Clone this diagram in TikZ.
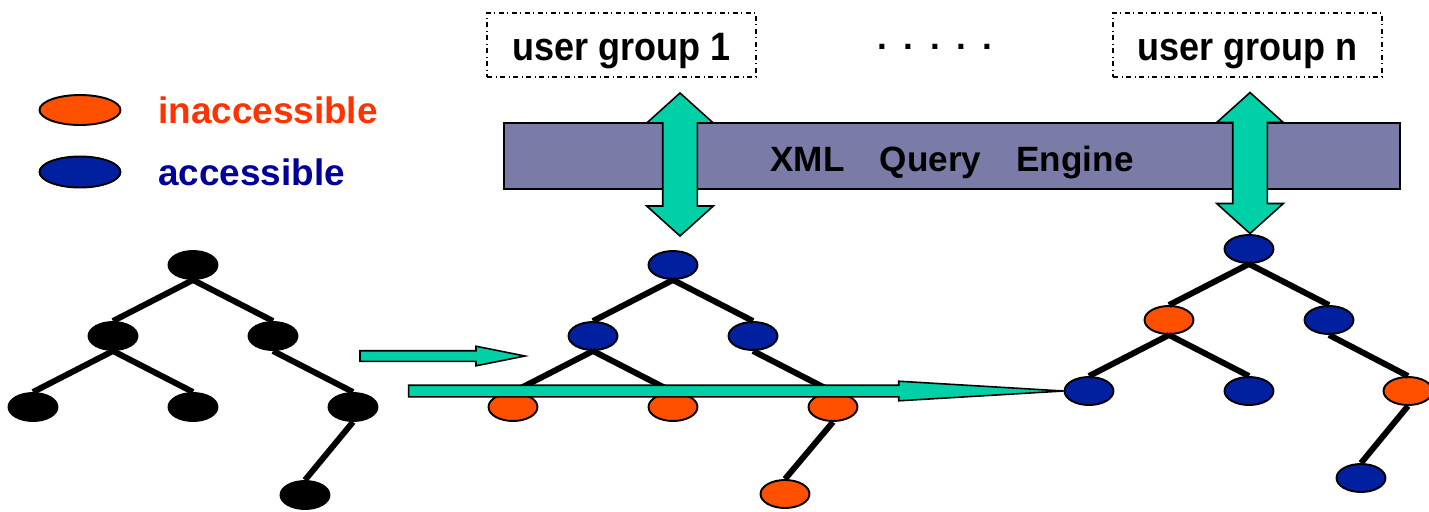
\documentclass[tikz,border=0pt]{standalone}
\usepackage{fontspec}
\setmainfont{Liberation Sans}
\usepackage{xcolor}
\usepackage{graphicx}
\usetikzlibrary{positioning}
\usetikzlibrary{shapes}
\usetikzlibrary{calc}

\definecolor{inaccred}{RGB}{255,80,0}
\definecolor{accblue}{RGB}{0,32,160}
\definecolor{inacctext}{RGB}{255,51,0}
\definecolor{acctext}{RGB}{0,0,153}
\definecolor{enginebar}{RGB}{123,123,168}
\definecolor{aqua}{RGB}{0,208,168}

\begin{document}
\begin{tikzpicture}[x=0.02cm, y=-0.02cm]

\tikzset{%
    every tnode/.style = {
        ellipse,
        draw,
        line width=1.1pt,
        minimum width=0.98cm,
        minimum height=0.56cm,
        inner sep=0pt
    },
    tnode plain/.style = {fill=black},
    tnode acc/.style = {fill=accblue},
    tnode inacc/.style = {fill=inaccred},
    tree edge/.style = {line width=3.4pt},
    legend text/.style = {
        inner sep=0pt,
        font=\fontsize{21}{25}\selectfont\bfseries
    },
    group box/.style = {
        draw,
        dash dot,
        line width=0.8pt,
        minimum width=5.38cm,
        minimum height=1.28cm,
        text height=18pt,
        text depth=0pt,
        font=\fontsize{20.5}{24}\selectfont\bfseries
    },
    engine bar/.style = {
        draw,
        fill=enginebar,
        line width=1.1pt,
        minimum width=17.92cm,
        minimum height=1.32cm,
        text height=17.1pt,
        text depth=0pt,
        font=\fontsize{20}{24}\selectfont\bfseries
    },
    updown arrow/.style = {
        double arrow,
        draw,
        fill=aqua,
        line width=0.9pt,
        rotate=90,
        minimum height=2.86cm,
        inner xsep=0pt,
        inner ysep=0.33cm,
        double arrow head extend=0.32cm,
        double arrow tip angle=96
    },
    fat arrow/.style = {
        single arrow,
        draw,
        fill=aqua,
        line width=0.9pt,
        outer sep=0pt,
        inner xsep=0pt
    }
}

\useasboundingbox (0,0) rectangle (1429,511);

% legend
\node [every tnode/.try, tnode inacc/.try, minimum width=1.62cm, minimum height=0.6cm] (leg-inacc) at (80,110) {};
\node [every tnode/.try, tnode acc/.try, minimum width=1.62cm, minimum height=0.62cm] (leg-acc) at (80,172) {};
\node [legend text, text=inacctext, right=0.73cm of leg-inacc] (leg-inacc-text) {inaccessible};
\node [legend text, text=acctext, right=0.73cm of leg-acc] (leg-acc-text) {accessible};

% user groups and query engine
\node [group box] (group-1) at (621.5,45) {\scalebox{1}[1.1]{user group 1}};
\node [group box] (group-n) at (1247.5,45) {\scalebox{1}[1.1]{user group n}};
\node [font=\fontsize{20}{24}\selectfont\bfseries, inner sep=0pt] (group-dots) at (935,47)
  {.\hspace{9.4pt}.\hspace{9.4pt}.\hspace{9.4pt}.\hspace{9.4pt}.};

\node [engine bar] (engine) at (952,156) {XML\hspace{1em}Query\hspace{1em}Engine};

\node [updown arrow] (link-1) at (680,164.5) {};
\node [updown arrow, minimum height=2.82cm] (link-n) at (1250,163) {};

% trees
\foreach \n/\x/\y/\c in {r/193/265/plain, a/113/336/plain, b/273/336/plain,
    aa/33/407/plain, ab/193/407/plain, bb/353/407/plain, bbb/305/495/plain}
  \node [every tnode/.try, tnode \c/.try] (l-\n) at (\x,\y) {};

\foreach \n/\x/\y/\c in {r/673/265/acc, a/593/336/acc, b/753/336/acc,
    aa/513/407/inacc, ab/673/407/inacc, bb/833/407/inacc, bbb/785/494/inacc}
  \node [every tnode/.try, tnode \c/.try] (m-\n) at (\x,\y) {};

\foreach \n/\x/\y/\c in {r/1249/249/acc, a/1169/320/inacc, b/1329/320/acc,
    aa/1089/391/acc, ab/1249/391/acc, bb/1408/391/inacc, bbb/1361/478/acc}
  \node [every tnode/.try, tnode \c/.try] (r-\n) at (\x,\y) {};

\foreach \t in {l,m,r}
  \foreach \p/\c in {r/a, r/b, a/aa, a/ab, b/bb, bb/bbb}
    \draw [tree edge] (\t-\p.south) -- (\t-\c.north);

% copy arrows
\coordinate (copy-tail) at (360,356);
\node [fat arrow, anchor=tail, minimum height=3.3cm, inner ysep=0.09cm,
  single arrow head extend=0.09cm, single arrow tip angle=22.6] (copy-short) at (copy-tail) {};
\node [fat arrow, anchor=tip, minimum height=13.1cm, inner ysep=0.1cm,
  single arrow head extend=0.08cm, single arrow tip angle=6.8] (copy-long) at (r-aa.west) {};

\end{tikzpicture}
\end{document}
